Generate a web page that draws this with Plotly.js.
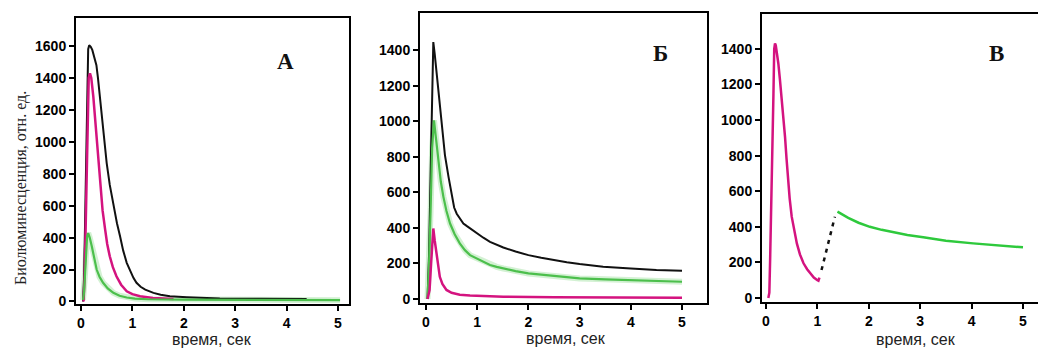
<!DOCTYPE html>
<html>
<head>
<meta charset="utf-8">
<script src="https://cdn.plot.ly/plotly-3.0.1.min.js"></script>
<style>html,body{margin:0;padding:0;background:#fff;}#chart{width:1038px;height:349px;}</style>
</head>
<body>
<div id="chart"></div>
<script>
// ---- Panel А ----
const aBlackX = [0.04,0.06,0.08,0.10,0.12,0.14,0.16,0.19,0.22,0.26,0.3,0.33,0.36,0.4,0.45,0.5,0.56,0.63,0.7,0.76,0.82,0.89,0.96,1.02,1.08,1.16,1.25,1.33,1.41,1.55,1.73,2.06,2.7,3.5,4.39];
const aBlackY = [0,150,500,900,1300,1580,1605,1595,1575,1535,1480,1400,1300,1180,1020,867,730,596,490,408,320,242,185,148,117,92,74,62,54,42,33,27,19,17,15];
const aMagX = [0.05,0.07,0.09,0.11,0.13,0.15,0.175,0.2,0.24,0.27,0.305,0.34,0.37,0.42,0.47,0.51,0.56,0.62,0.69,0.78,0.89,1.0,1.15,1.4,1.8];
const aMagY = [0,150,450,850,1200,1400,1429,1400,1283,1160,1012,860,721,570,450,360,283,215,158,105,64,46,33,22,15];
const aGreenX = [0.04,0.06,0.08,0.1,0.12,0.14,0.17,0.21,0.25,0.305,0.36,0.43,0.52,0.63,0.75,0.89,1.05,1.3,2,3,4,5.04];
const aGreenY = [10,60,180,320,410,429,400,346,280,200,155,117,82,54,36,25,18,14,12,10,9,8];
// ---- Panel Б ----
const bBlackX = [0.03,0.06,0.09,0.12,0.143,0.17,0.21,0.26,0.31,0.37,0.44,0.5,0.55,0.6,0.66,0.73,0.8,0.86,1.0,1.12,1.25,1.38,1.51,1.75,2.0,2.25,2.49,2.75,3.0,3.46,4.0,4.5,5.0];
const bBlackY = [0,250,700,1200,1446,1380,1268,1100,949,810,687,580,515,480,452,425,410,397,369,345,322,305,290,267,247,232,219,207,197,182,172,163,159];
const bGreenX = [0.03,0.06,0.09,0.12,0.156,0.19,0.24,0.29,0.34,0.4,0.47,0.56,0.66,0.76,0.86,1.0,1.12,1.25,1.38,1.51,1.75,2.0,2.25,2.49,2.75,3.0,3.5,4.0,4.5,5.0];
const bGreenY = [0,200,500,850,1006,920,762,660,575,495,425,365,313,275,247,228,208,191,181,172,157,144,136,129,122,116,111,107,102,97];
const bMagX = [0.03,0.07,0.1,0.12,0.143,0.17,0.21,0.24,0.27,0.32,0.4,0.5,0.66,0.86,1.2,1.51,2.5,3.5,5.0];
const bMagY = [0,50,200,330,397,330,238,175,125,85,51,35,24,20,16,13,10,8,7];
// ---- Panel В ----
const cMagX = [0.045,0.065,0.08,0.1,0.12,0.135,0.145,0.16,0.175,0.19,0.21,0.24,0.27,0.305,0.34,0.37,0.4,0.43,0.46,0.5,0.55,0.6,0.66,0.73,0.8,0.86,0.93,1.0,1.02,1.04];
const cMagY = [0,30,213,450,700,900,1150,1400,1431,1420,1380,1318,1230,1131,1020,906,780,663,560,457,370,307,245,195,162,139,115,100,97,115];
const cDashX = [1.08,1.34];
const cDashY = [157,457];
const cGreenX = [1.39,1.5,1.6,1.8,2.02,2.25,2.5,2.75,3.06,3.5,4.03,4.5,5.0];
const cGreenY = [485,465,450,423,400,383,368,354,341,322,307,296,285];
// ---- ticks & labels ----
const xTicks = [0,1,2,3,4,5];
const yTicksA = [0,200,400,600,800,1000,1200,1400,1600];
const yTicksBC = [0,200,400,600,800,1000,1200,1400];
const panelLetters = ['А','Б','В'];
const xTitle = 'время, сек';
const yTitle = 'Биолюминесценция, отн. ед.';

const BLACK = '#111111', MAG = '#d4137f', GREEN = '#4cbf4c', GREEN_C = '#2ec93c', HALO = 'rgba(130,215,130,0.35)';

function line(x, y, color, width, xa, ya, dash) {
  return {x: x, y: y, type: 'scatter', mode: 'lines', xaxis: xa, yaxis: ya,
          line: {color: color, width: width, dash: dash || 'solid'}, hoverinfo: 'skip', showlegend: false};
}

const traces = [
  line(aGreenX, aGreenY, HALO, 6, 'x', 'y'),
  line(aBlackX, aBlackY, BLACK, 2, 'x', 'y'),
  line(aMagX, aMagY, MAG, 2.5, 'x', 'y'),
  line(aGreenX, aGreenY, GREEN, 2.2, 'x', 'y'),
  line(bGreenX, bGreenY, HALO, 6, 'x2', 'y2'),
  line(bBlackX, bBlackY, BLACK, 2, 'x2', 'y2'),
  line(bGreenX, bGreenY, GREEN, 2.2, 'x2', 'y2'),
  line(bMagX, bMagY, MAG, 2.5, 'x2', 'y2'),
  line(cMagX, cMagY, MAG, 2.5, 'x3', 'y3'),
  line(cDashX, cDashY, BLACK, 2.5, 'x3', 'y3', '4px,5px'),
  line(cGreenX, cGreenY, GREEN_C, 2.5, 'x3', 'y3')
];

const tickFont = {family: 'Liberation Sans', size: 14, color: '#000'};
const bold = v => '<b>' + v + '</b>';
function xax(domain, range, mirror) {
  return {domain: domain, range: range, tickvals: xTicks, ticktext: xTicks.map(bold),
          showline: true, linewidth: 2, linecolor: '#000', mirror: mirror,
          ticks: 'outside', ticklen: 5, tickwidth: 2, tickcolor: '#000',
          showgrid: false, zeroline: false, tickfont: tickFont, fixedrange: true};
}
function yax(domain, range, ticks, mirror, anchor) {
  return {domain: domain, range: range, tickvals: ticks, ticktext: ticks.map(bold), anchor: anchor,
          showline: true, linewidth: 2, linecolor: '#000', mirror: mirror,
          ticks: 'outside', ticklen: 5, tickwidth: 2, tickcolor: '#000',
          showgrid: false, zeroline: false, tickfont: tickFont, fixedrange: true};
}

const W = 1038, H = 349;
const px = v => v / W, py = v => 1 - v / H;

const annotations = [];
const letterPos = [[285, 62], [660, 53], [996, 53]];
panelLetters.forEach((t, i) => annotations.push({
  text: '<b>' + t + '</b>', xref: 'paper', yref: 'paper', x: px(letterPos[i][0]), y: py(letterPos[i][1]),
  xanchor: 'center', yanchor: 'middle', showarrow: false,
  font: {family: 'Liberation Serif', size: 23, color: '#111'}
}));
const xtPos = [[212, 339], [566, 338], [916, 339]];
xtPos.forEach(p => annotations.push({
  text: xTitle, xref: 'paper', yref: 'paper', x: px(p[0]), y: py(p[1]),
  xanchor: 'center', yanchor: 'middle', showarrow: false,
  font: {family: 'Liberation Sans', size: 16, color: '#222'}
}));
annotations.push({
  text: yTitle, xref: 'paper', yref: 'paper', x: px(21), y: py(188), textangle: -90,
  xanchor: 'center', yanchor: 'middle', showarrow: false,
  font: {family: 'Liberation Serif', size: 16, color: '#222'}
});

const layout = {
  width: W, height: H, margin: {l: 0, r: 0, t: 0, b: 0},
  paper_bgcolor: '#fff', plot_bgcolor: '#fff', showlegend: false,
  xaxis: xax([px(76), px(349)], [-0.097, 5.214], true),
  yaxis: yax([py(304), py(18)], [-15.7, 1775], yTicksA, true, 'x'),
  xaxis2: Object.assign(xax([px(420), px(707)], [-0.117, 5.488], true), {anchor: 'y2'}),
  yaxis2: yax([py(303), py(13)], [-22.5, 1610], yTicksBC, true, 'x2'),
  xaxis3: Object.assign(xax([px(762), 1], [-0.078, 5.292], true), {anchor: 'y3'}),
  yaxis3: yax([py(302), py(14)], [-22.5, 1596], yTicksBC, false, 'x3'),
  annotations: annotations
};

Plotly.newPlot('chart', traces, layout, {staticPlot: true, displayModeBar: false});
</script>
</body>
</html>
